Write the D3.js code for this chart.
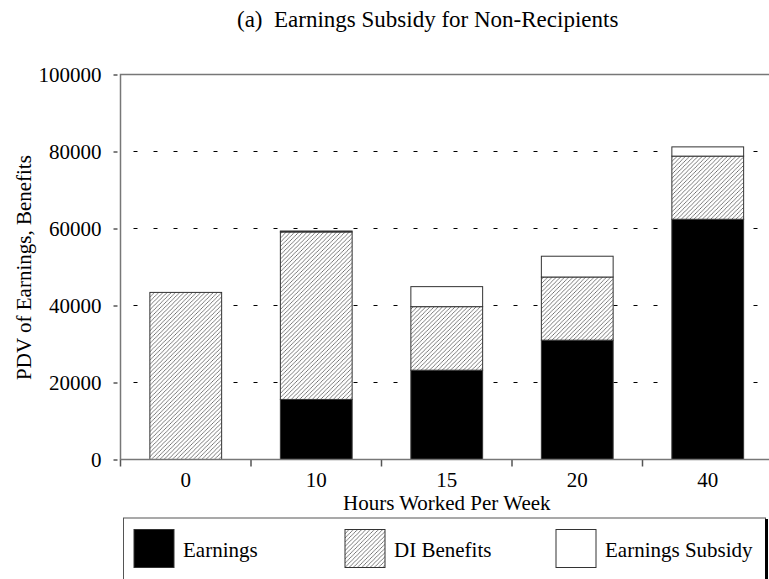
<!DOCTYPE html>
<html>
<head>
<meta charset="utf-8">
<script src="https://cdn.jsdelivr.net/npm/d3@7"></script>
<style>
  body { margin: 0; background: #fff; }
  text { font-family: "Liberation Serif", "Times New Roman", serif; fill: #000; }
</style>
</head>
<body>
<div id="vis"></div>
<script>
// data
var hours = ["0", "10", "15", "20", "40"];
var earnings = [0, 15600, 23200, 31000, 62400];
var diBenefits = [43400, 43500, 16500, 16400, 16400];
var subsidy = [0, 250, 5200, 5400, 2400];
var yTicks = [0, 20000, 40000, 60000, 80000, 100000];
var seriesNames = ["Earnings", "DI Benefits", "Earnings Subsidy"];

var margin = {top: 74.5, right: -4, bottom: 119.5, left: 120.5},
    width = 769 - margin.left - margin.right,
    height = 579 - margin.top - margin.bottom;

var svg = d3.select("#vis").append("svg")
    .attr("width", 769)
    .attr("height", 579);

var defs = svg.append("defs");
var hatch = defs.append("pattern")
    .attr("id", "hatch")
    .attr("patternUnits", "userSpaceOnUse")
    .attr("width", 4.2)
    .attr("height", 4.2);
hatch.append("rect").attr("width", 4.2).attr("height", 4.2).attr("fill", "#fff");
hatch.append("path")
    .attr("d", "M-1,1 L1,-1 M0,4.2 L4.2,0 M3.2,5.2 L5.2,3.2")
    .attr("stroke", "#222")
    .attr("stroke-width", 0.6);

// title
svg.append("text")
    .attr("x", 237)
    .attr("y", 27)
    .attr("xml:space", "preserve")
    .style("font-size", "23px")
    .text("(a)  Earnings Subsidy for Non-Recipients");

var g = svg.append("g")
    .attr("transform", "translate(" + margin.left + "," + margin.top + ")");

var x = d3.scaleBand()
    .domain(hours)
    .range([0, width])
    .paddingInner(0.45)
    .paddingOuter(0.225);

var y = d3.scaleLinear()
    .domain([0, 100000])
    .range([height, 0]);

// dashed grid lines
g.append("g")
    .selectAll("line")
    .data(yTicks.filter(d => d > 0 && d < 100000))
    .enter().append("line")
    .attr("x1", 0)
    .attr("x2", width)
    .attr("y1", d => y(d))
    .attr("y2", d => y(d))
    .attr("stroke", "#000")
    .attr("stroke-width", 1)
    .attr("stroke-dasharray", "4,16")
    .attr("stroke-dashoffset", -13);

// stacked bars
var rows = hours.map((h, i) => ({hour: h, earn: earnings[i], di: diBenefits[i], sub: subsidy[i]}));
var stack = d3.stack().keys(["earn", "di", "sub"])(rows);
var fills = ["#000", "url(#hatch)", "#fff"];

g.append("g")
    .selectAll("g")
    .data(stack)
    .enter().append("g")
    .attr("fill", (d, i) => fills[i])
    .selectAll("rect")
    .data(d => d.filter(p => p[1] - p[0] > 0))
    .enter().append("rect")
    .attr("x", d => x(d.data.hour))
    .attr("y", d => y(d[1]))
    .attr("width", x.bandwidth())
    .attr("height", d => y(d[0]) - y(d[1]))
    .attr("stroke", "#333")
    .attr("stroke-width", 1);

// y axis
var yAxis = g.append("g")
    .call(d3.axisLeft(y).tickValues(yTicks).tickSize(0).tickPadding(19).tickFormat(d3.format("d")));
yAxis.select(".domain").remove();
yAxis.selectAll("text").style("font-size", "21px").attr("dy", "0.34em");
yAxis.selectAll(".tick").append("line")
    .attr("x1", -7).attr("x2", -3)
    .attr("stroke", "#000");

// x axis
var xAxis = g.append("g")
    .attr("transform", "translate(0," + height + ")")
    .call(d3.axisBottom(x).tickSize(0).tickPadding(13));
xAxis.select(".domain").remove();
xAxis.selectAll("text").style("font-size", "21px");
xAxis.append("g")
    .selectAll("line")
    .data(hours)
    .enter().append("line")
    .attr("x1", d => x(d) - x.step() * x.paddingInner() / 2)
    .attr("x2", d => x(d) - x.step() * x.paddingInner() / 2)
    .attr("y1", 0)
    .attr("y2", 7)
    .attr("stroke", "#555")
    .attr("stroke-width", 1.5);

// frame lines
g.append("path")
    .attr("d", "M0," + (height + 0.5) + "V0H" + width)
    .attr("fill", "none")
    .attr("stroke", "#777")
    .attr("stroke-width", 1.5);
g.append("line")
    .attr("x1", 0).attr("x2", width)
    .attr("y1", height).attr("y2", height)
    .attr("stroke", "#777")
    .attr("stroke-width", 1.5);

// axis titles
svg.append("text")
    .attr("x", margin.left + (773 - margin.left) / 2)
    .attr("y", 510)
    .attr("text-anchor", "middle")
    .style("font-size", "21px")
    .text("Hours Worked Per Week");

svg.append("text")
    .attr("transform", "translate(31,267.5) rotate(-90)")
    .attr("text-anchor", "middle")
    .style("font-size", "21px")
    .text("PDV of Earnings, Benefits");

// legend
var legend = svg.append("g");
legend.append("rect")
    .attr("x", 123.5).attr("y", 518)
    .attr("width", 642).attr("height", 80)
    .attr("fill", "#fff")
    .attr("stroke", "#555")
    .attr("stroke-width", 1);
legend.append("line")
    .attr("x1", 766.5).attr("x2", 766.5)
    .attr("y1", 519).attr("y2", 579)
    .attr("stroke", "#000")
    .attr("stroke-width", 3);

var legendX = [134, 345, 556];
var item = legend.selectAll(".item")
    .data(seriesNames)
    .enter().append("g")
    .attr("class", "item")
    .attr("transform", (d, i) => "translate(" + legendX[i] + ",529.5)");
item.append("rect")
    .attr("width", 40)
    .attr("height", 38)
    .attr("fill", (d, i) => fills[i])
    .attr("stroke", "#333")
    .attr("stroke-width", 1);
item.append("text")
    .attr("x", 49)
    .attr("y", 27.5)
    .style("font-size", "21px")
    .text(d => d);
</script>
</body>
</html>
